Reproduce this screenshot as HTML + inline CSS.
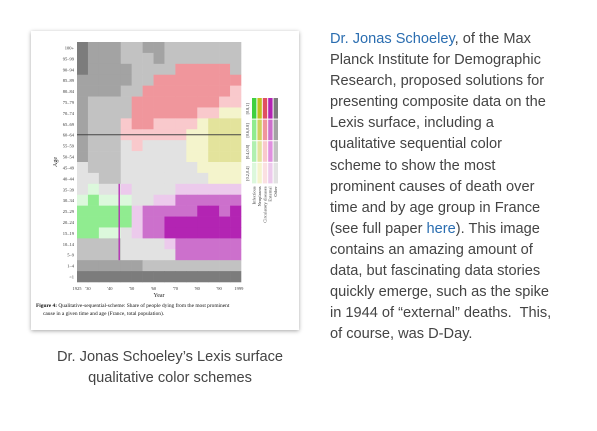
<!DOCTYPE html>
<html><head><meta charset="utf-8"><style>
body{margin:0;width:597px;height:431px;background:#fff;overflow:hidden;position:relative;font-family:"Liberation Sans",sans-serif}
#card{position:absolute;left:31px;top:31px;width:268px;height:299px;background:#fff;box-shadow:0 1px 4px rgba(0,0,0,.35)}
#txt{position:absolute;left:330px;top:29px;font-size:14.6px;line-height:21.1px;color:#444;white-space:nowrap}
#txt a{color:#2a6db0;text-decoration:none}
#cap{position:absolute;left:30px;width:280px;top:347px;text-align:center;font-size:14.6px;line-height:21px;color:#444}
</style></head><body>
<div id="card">
<svg id="chart" width="268" height="299" style="position:absolute;left:0;top:0"></svg>
</div>
<div id="txt"><a href="#">Dr. Jonas Schoeley</a>, of the Max<br>Planck Institute for Demographic<br>Research, proposed solutions for<br>presenting composite data on the<br>Lexis surface, including a<br>qualitative sequential color<br>scheme to show the most<br>prominent causes of death over<br>time and by age group in France<br>(see full paper <a href="#">here</a>). This image<br>contains an amazing amount of<br>data, but fascinating data stories<br>quickly emerge, such as the spike<br>in 1944 of “external” deaths.&nbsp; This,<br>of course, was D-Day.</div>
<div id="cap">Dr. Jonas Schoeley’s Lexis surface<br>qualitative color schemes</div>
<script>
const ageLabels=["100+","95–99","90–94","85–89","80–84","75–79","70–74","65–69","60–64","55–59","50–54","45–49","40–44","35–39","30–34","25–29","20–24","15–19","10–14","5–9","1–4","<1"];
const yearBins=[1925,1930,1935,1940,1945,1950,1955,1960,1965,1970,1975,1980,1985,1990,1995];
const xTicks=["1925","'30","'40","'50","'60","'70","'80","'90","1999"];
const xTickYears=[1925,1930,1940,1950,1960,1970,1980,1990,1999];
const grid=[
"g4 g3 g3 g3 g2 g2 g3 g3 g2 g2 g2 g2 g2 g2 g2",
"g4 g3 g3 g3 g2 g2 g2 g3 g2 g2 g2 g2 g2 g2 g2",
"g4 g3 g3 g3 g3 g2 g2 g2 g2 p3 p3 p3 p3 p3 g2",
"g3 g3 g3 g3 g3 g2 g2 p3 p3 p3 p3 p3 p3 p3 p3",
"g3 g3 g3 g3 g2 g2 p3 p3 p3 p3 p3 p3 p3 p3 p2",
"g3 g2 g2 g2 g2 p3 p3 p3 p3 p3 p3 p3 p3 p2 p2",
"g3 g2 g2 g2 g2 p3 p3 p3 p3 p3 p3 p2 p2 y1 y1",
"g3 g2 g2 g2 p2 p3 p3 p2 p2 p2 p2 y1 y2 y2 y2",
"g3 g2 g2 g2 p2 p2 p2 p2 p2 p2 y1 y1 y2 y2 y2",
"g3 g2 g2 g2 g1 p2 g1 g1 g1 g1 y1 y1 y2 y2 y2",
"g3 g2 g2 g2 g1 g1 g1 g1 g1 g1 y1 y1 y2 y2 y2",
"g1 g2 g2 g2 g1 g1 g1 g1 g1 g1 g1 y1 y1 y1 y1",
"g1 g1 g2 g2 g1 g1 g1 g1 g1 g1 g1 g1 y1 y1 y1",
"g1 n1 g1 g1 m1 g1 g1 g1 g1 m1 m1 m1 m1 m1 m1",
"n1 n3 n1 n1 n1 g1 g1 m1 m1 m3 m3 m3 m3 m3 m3",
"n3 n3 n3 n3 n3 m1 m3 m3 m3 m3 m3 m4 m4 m3 m4",
"n3 n3 n3 n3 n3 m1 m3 m3 m4 m4 m4 m4 m4 m4 m4",
"n3 n3 n1 n1 g1 m1 m3 m3 m4 m4 m4 m4 m4 m4 m4",
"g2 g2 g2 g2 g1 g1 g1 g1 m1 m3 m3 m3 m3 m3 m3",
"g2 g2 g2 g2 g1 g1 g1 g1 g1 m3 m3 m3 m3 m3 m3",
"g3 g3 g3 g3 g3 g3 g2 g2 g2 g2 g2 g2 g2 g2 g2",
"g4 g4 g4 g4 g4 g4 g4 g4 g4 g4 g4 g4 g4 g4 g4"];
const legendCats=["Infectious","Neoplasms","Circulatory diseases","External","Other"];
const legendBins=["[0.8,1]","[0.6,0.8]","[0.4,0.8]","[0.2,0.4]"];
const pal={g:["#e2e2e2","#c2c2c2","#a3a3a3","#7c7c7c"],p:["#fbe0e2","#f9c9cc","#f0969c","#e05060"],y:["#f4f4cc","#e3e39c","#d0d060","#c0c020"],m:["#eccaec","#e090e0","#cc70cc","#b324b3"],n:["#dcf8dc","#b0f0b0","#90ec90","#40d040"]};
const legPal={n:pal.n,y:pal.y,p:pal.p,m:pal.m,g:pal.g};
const S="http://www.w3.org/2000/svg",svg=document.getElementById('chart');
function el(t,a){const e=document.createElementNS(S,t);for(const k in a)e.setAttribute(k,a[k]);svg.appendChild(e);return e;}
const ox=31,oy=31,X0=77-ox,X1=241-ox,Y0=42-oy,Y1=282-oy;
const xs=y=>X0+(y-1925)/75*(X1-X0);
const rowH=(Y1-Y0)/ageLabels.length;
const ys=i=>Y0+i*rowH;
grid.forEach((row,i)=>{row.split(' ').forEach((c,j)=>{
 const r=el('rect',{x:xs(yearBins[j]),y:ys(i),width:xs(yearBins[j]+5)-xs(yearBins[j])+0.3,height:rowH+0.3,fill:pal[c[0]][+c[1]-1]});
 
 
});});
const v=el('rect',{x:xs(1944),y:ys(13),width:1.3,height:rowH*7,fill:"#b324b3"});


const hl=el('line',{x1:X0,x2:X1,y1:ys(8)+rowH/2,y2:ys(8)+rowH/2,stroke:"#444","stroke-width":1});


ageLabels.forEach((l,i)=>{const t=el('text',{x:X0-3,y:ys(i)+rowH/2+2,"font-size":4.5,"text-anchor":"end",fill:"#333","font-family":"Liberation Serif,serif"});t.textContent=l;
 
 });
xTicks.forEach((l,i)=>{const t=el('text',{x:xs(xTickYears[i]),y:Y1+8,"font-size":4.5,"text-anchor":"middle",fill:"#333","font-family":"Liberation Serif,serif"});t.textContent=l;
 
 });
let t=el('text',{x:(X0+X1)/2,y:Y1+15,"font-size":6,"text-anchor":"middle",fill:"#222","font-family":"Liberation Serif,serif"});t.textContent="Year";


t=el('text',{x:0,y:0,"font-size":6,"text-anchor":"middle",fill:"#222","font-family":"Liberation Serif,serif",transform:`translate(${X0-20},${(Y0+Y1)/2}) rotate(-90)`});t.textContent="Age";


const LX=252-ox,LY=98-oy,lw=5.4,lh=21.6;
legendCats.forEach((c,j)=>{const k="nypmg"[j];legendBins.forEach((b,i)=>{
 const r=el('rect',{x:LX+j*lw,y:LY+i*lh,width:lw-1,height:lh-1,fill:legPal[k][3-i]});
 
 });
 const tt=el('text',{x:0,y:0,"font-size":4.5,fill:"#333","font-family":"Liberation Serif,serif","text-anchor":"end",transform:`translate(${LX+j*lw+3.5},${LY+4*lh+2}) rotate(-90)`});tt.textContent=c;
 
 });
legendBins.forEach((b,i)=>{const tt=el('text',{x:0,y:0,"font-size":4.2,fill:"#333","font-family":"Liberation Serif,serif","text-anchor":"middle",transform:`translate(${LX-3},${LY+i*lh+lh/2}) rotate(-90)`});tt.textContent=b;
 
 });
t=el('text',{x:5,y:Y1+25,"font-size":5.4,fill:"#111","font-family":"Liberation Serif,serif"});t.innerHTML='<tspan font-weight="bold">Figure 4:</tspan> Qualitative-sequential-scheme: Share of people dying from the most prominent';


t=el('text',{x:12,y:Y1+33,"font-size":5.4,fill:"#111","font-family":"Liberation Serif,serif"});t.textContent="cause in a given time and age (France, total population).";


</script>
</body></html>
